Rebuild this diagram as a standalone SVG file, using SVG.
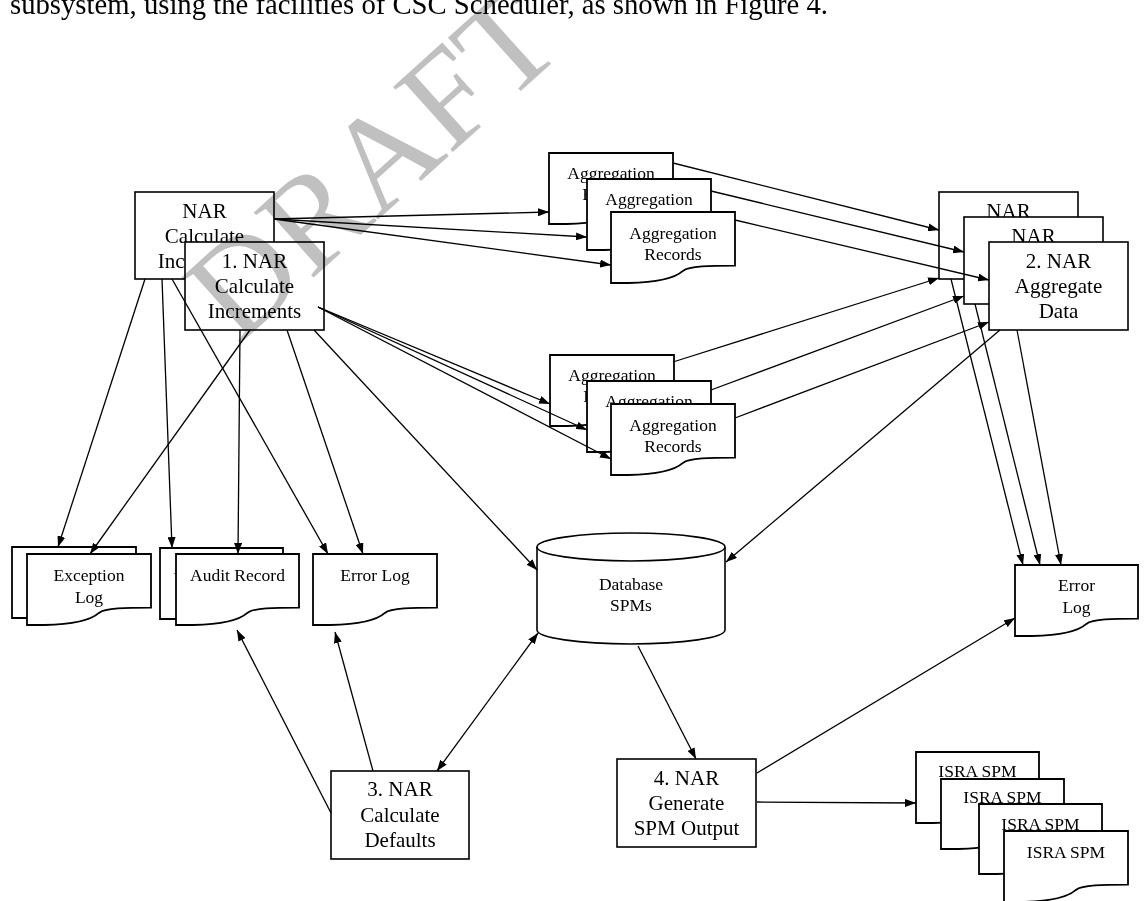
<svg xmlns="http://www.w3.org/2000/svg" xmlns:xlink="http://www.w3.org/1999/xlink" width="1148" height="901" viewBox="0 0 1148 901">
<style>
.bx{fill:#fff;stroke:#000;stroke-width:1.6}
.docp{fill:#fff;stroke:#000;stroke-width:1.8;vector-effect:non-scaling-stroke}
.t{font-family:"Liberation Serif","Times New Roman",serif;fill:#000;text-anchor:middle}
.pt{font-size:21px}
.dt{font-size:17.5px}
.cn{stroke:#000;stroke-width:1.3;fill:none;marker-end:url(#ah)}
.cb{marker-start:url(#ah)}
.wm{font-family:"Liberation Serif","Times New Roman",serif;font-size:135px;fill:#c0c0c0;text-anchor:middle;mix-blend-mode:multiply}
</style>
<defs>
<marker id="ah" viewBox="0 0 11 8" refX="11" refY="4" markerWidth="11" markerHeight="8" markerUnits="userSpaceOnUse" orient="auto-start-reverse">
<path d="M0,0 L11,4 L0,8 Z" fill="#000"/>
</marker>
<path id="doc" class="docp" d="M0,0 H1 V0.755 C0.8,0.755 0.63,0.76 0.58,0.83 C0.53,0.91 0.42,0.99 0.14,1 H0 Z"/>
</defs>
<rect width="1148" height="901" fill="#fff"/>
<text x="10" y="14" font-family="Liberation Serif,serif" font-size="28.5" textLength="818" lengthAdjust="spacingAndGlyphs">subsystem, using the facilities of CSC Scheduler, as shown in Figure 4.</text>

<g id="p1b"><rect class="bx" x="135" y="192" width="139" height="87"/>
<text class="t pt" x="204.5" y="218">NAR</text><text class="t pt" x="204.5" y="243">Calculate</text><text class="t pt" x="204.5" y="268">Increments</text></g>
<g id="p1"><rect class="bx" x="185" y="242" width="139" height="88"/>
<text class="t pt" x="254.5" y="268">1. NAR</text><text class="t pt" x="254.5" y="293">Calculate</text><text class="t pt" x="254.5" y="318">Increments</text></g>

<g id="ag1"><use href="#doc" transform="translate(549,153) scale(124,71)"/><text class="t dt" x="611" y="179">Aggregation</text><text class="t dt" x="611" y="200">Records</text></g>
<g id="ag2"><use href="#doc" transform="translate(587,179) scale(124,71)"/><text class="t dt" x="649" y="205">Aggregation</text><text class="t dt" x="649" y="226">Records</text></g>
<g id="ag3"><use href="#doc" transform="translate(611,212) scale(124,71)"/><text class="t dt" x="673" y="239">Aggregation</text><text class="t dt" x="673" y="260">Records</text></g>
<g id="ag4"><use href="#doc" transform="translate(550,355) scale(124,71)"/><text class="t dt" x="612" y="381">Aggregation</text><text class="t dt" x="612" y="402">Records</text></g>
<g id="ag5"><use href="#doc" transform="translate(587,381) scale(124,71)"/><text class="t dt" x="649" y="407">Aggregation</text><text class="t dt" x="649" y="428">Records</text></g>
<g id="ag6"><use href="#doc" transform="translate(611,404) scale(124,71)"/><text class="t dt" x="673" y="431">Aggregation</text><text class="t dt" x="673" y="452">Records</text></g>

<g id="p2b1"><rect class="bx" x="939" y="192" width="139" height="87"/><text class="t pt" x="1008.5" y="218">NAR</text><text class="t pt" x="1008.5" y="243">Aggregate</text><text class="t pt" x="1008.5" y="268">Data</text></g>
<g id="p2b2"><rect class="bx" x="964" y="217" width="139" height="87"/><text class="t pt" x="1033.5" y="243">NAR</text><text class="t pt" x="1033.5" y="268">Aggregate</text><text class="t pt" x="1033.5" y="293">Data</text></g>
<g id="p2"><rect class="bx" x="989" y="242" width="139" height="88"/>
<text class="t pt" x="1058.5" y="268">2. NAR</text><text class="t pt" x="1058.5" y="293">Aggregate</text><text class="t pt" x="1058.5" y="318">Data</text></g>

<g id="excb"><use href="#doc" transform="translate(12,547) scale(124,71)"/><text class="t dt" x="74" y="573">Exception</text><text class="t dt" x="74" y="595">Log</text></g>
<g id="exc"><use href="#doc" transform="translate(27,554) scale(124,71)"/><text class="t dt" x="89" y="581">Exception</text><text class="t dt" x="89" y="603">Log</text></g>
<g id="audb"><use href="#doc" transform="translate(160,548) scale(123,71)"/><text class="t dt" x="221.5" y="574">Audit Record</text></g>
<g id="aud"><use href="#doc" transform="translate(176,554) scale(123,71)"/><text class="t dt" x="237.5" y="581">Audit Record</text></g>
<g id="err1"><use href="#doc" transform="translate(313,554) scale(124,71)"/><text class="t dt" x="375" y="581">Error Log</text></g>

<g id="db"><path d="M537,547 V630 A94,14 0 0 0 725,630 V547" fill="#fff" stroke="#000" stroke-width="1.6"/>
<ellipse cx="631" cy="547" rx="94" ry="14" fill="#fff" stroke="#000" stroke-width="1.6"/>
<text class="t dt" x="631" y="590">Database</text><text class="t dt" x="631" y="611">SPMs</text></g>

<g id="err2"><use href="#doc" transform="translate(1015,565) scale(123,71)"/><text class="t dt" x="1076.5" y="591">Error</text><text class="t dt" x="1076.5" y="613">Log</text></g>

<g id="p3"><rect class="bx" x="331" y="771" width="138" height="88"/>
<text class="t pt" x="400" y="796">3. NAR</text><text class="t pt" x="400" y="822">Calculate</text><text class="t pt" x="400" y="847">Defaults</text></g>
<g id="p4"><rect class="bx" x="617" y="759" width="139" height="88"/>
<text class="t pt" x="686.5" y="785">4. NAR</text><text class="t pt" x="686.5" y="810">Generate</text><text class="t pt" x="686.5" y="835">SPM Output</text></g>

<g id="isra1"><use href="#doc" transform="translate(916,752) scale(123,71)"/><text class="t dt" x="977.5" y="777">ISRA SPM</text></g>
<g id="isra2"><use href="#doc" transform="translate(941,779) scale(123,70)"/><text class="t dt" x="1002.5" y="803">ISRA SPM</text></g>
<g id="isra3"><use href="#doc" transform="translate(979,804) scale(123,70)"/><text class="t dt" x="1040.5" y="830">ISRA SPM</text></g>
<g id="isra4"><use href="#doc" transform="translate(1004,831) scale(124,71)"/><text class="t dt" x="1066" y="858">ISRA SPM</text></g>

<g id="connectors">
<path class="cn" d="M274,219 L549,212"/>
<path class="cn" d="M274,219 L587,237"/>
<path class="cn" d="M274,219 L611,265"/>
<path class="cn" d="M318,307 L550,404"/>
<path class="cn" d="M318,307 L587,430"/>
<path class="cn" d="M318,307 L611,459"/>
<path class="cn" d="M673,163 L939,230"/>
<path class="cn" d="M711,191 L964,252"/>
<path class="cn" d="M735,220 L989,280"/>
<path class="cn" d="M673,362 L939,278"/>
<path class="cn" d="M711,390 L964,296"/>
<path class="cn" d="M735,418 L989,322"/>
<path class="cn" d="M951,279 L1023,565"/>
<path class="cn" d="M975,304 L1040,565"/>
<path class="cn" d="M1017,330 L1061,565"/>
<path class="cn" d="M1000,330 L726,562"/>
<path class="cn" d="M145,279 L58,547"/>
<path class="cn" d="M162,279 L172,548"/>
<path class="cn" d="M172,279 L328,554"/>
<path class="cn" d="M250,330 L90,554"/>
<path class="cn" d="M240,330 L238,554"/>
<path class="cn" d="M287,330 L363,554"/>
<path class="cn" d="M314,330 L537,570"/>
<path class="cn" d="M638,646 L696,759"/>
<path class="cn cb" d="M437,771 L538,633"/>
<path class="cn" d="M331,813 L237,630"/>
<path class="cn" d="M373,771 L335,632"/>
<path class="cn" d="M757,773 L1015,618"/>
<path class="cn" d="M757,802 L916,803"/>
</g>
<text class="wm" x="402" y="198" transform="rotate(-42 402 198)">DRAFT</text>
</svg>
